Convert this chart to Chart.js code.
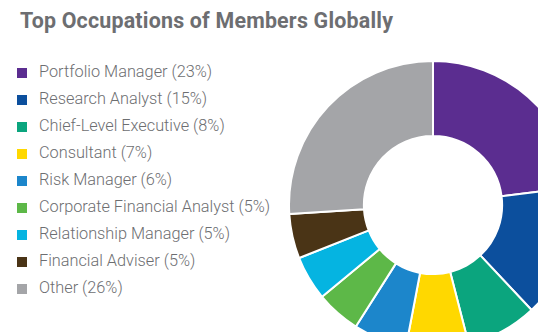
<!DOCTYPE html>
<html lang="en">
<head>
    <meta charset="UTF-8">
    <title>Top Occupations of Members Globally</title>
    <script src="https://cdn.jsdelivr.net/npm/chart.js@4/dist/chart.umd.min.js"></script>
    <style>
      html, body {
        margin: 0;
        padding: 0;
        width: 538px;
        height: 332px;
        overflow: hidden;
        background: #fff;
        position: relative;
      }
      h1 {
        position: absolute;
        left: 20px;
        top: 8px;
        margin: 0;
        font-family: Roboto, sans-serif;
        font-weight: 700;
        font-size: 21.4px;
        color: #6d6e71;
        letter-spacing: 0.2px;
      }
      #legend {
        position: absolute;
        left: 17px;
        top: 61px;
        margin: 0;
        padding: 0;
        list-style: none;
        font-family: Roboto, sans-serif;
        font-weight: 300;
        font-size: 16.3px;
        color: #6d6e71;
      }
      #legend li {
        height: 27px;
        line-height: 22px;
        white-space: nowrap;
      }
      #legend span {
        display: inline-block;
        width: 10px;
        height: 10px;
        margin-right: 12px;
        vertical-align: -1px;
      }
      .chart-box {
        position: absolute;
        left: 288px;
        top: 60px;
        width: 290px;
        height: 290px;
      }
    </style>
</head>
<body>
    <h1>Top Occupations of Members Globally</h1>
    <ul id="legend"></ul>
    <div class="chart-box">
        <canvas id="donut"></canvas>
    </div>

    <script>
        const categories = ['Portfolio Manager', 'Research Analyst', 'Chief-Level Executive', 'Consultant',
          'Risk Manager', 'Corporate Financial Analyst', 'Relationship Manager', 'Financial Adviser', 'Other'];
        const shares = [23, 15, 8, 7, 6, 5, 5, 5, 26];
        const colors = ['#5b2d90', '#0c4f9d', '#0ba57e', '#ffd800', '#1c86cb',
          '#5db848', '#05b4e1', '#4a3416', '#a4a5a8'];

        // legend drawn as html from the same arrays
        const legend = document.getElementById('legend');
        categories.forEach((name, i) => {
          const li = document.createElement('li');
          const box = document.createElement('span');
          box.style.background = colors[i];
          li.appendChild(box);
          li.appendChild(document.createTextNode(name + ' (' + shares[i] + '%)'));
          legend.appendChild(li);
        });

        new Chart(document.getElementById('donut'), {
          type: 'doughnut',
          data: {
            labels: categories,
            datasets: [{
              data: shares,
              backgroundColor: colors,
              borderColor: '#ffffff',
              borderWidth: 2
            }]
          },
          options: {
            responsive: true,
            maintainAspectRatio: false,
            animation: false,
            cutout: '48%',
            layout: { padding: 0 },
            plugins: {
              legend: { display: false },
              tooltip: { enabled: false }
            }
          }
        });
    </script>
</body>
</html>
